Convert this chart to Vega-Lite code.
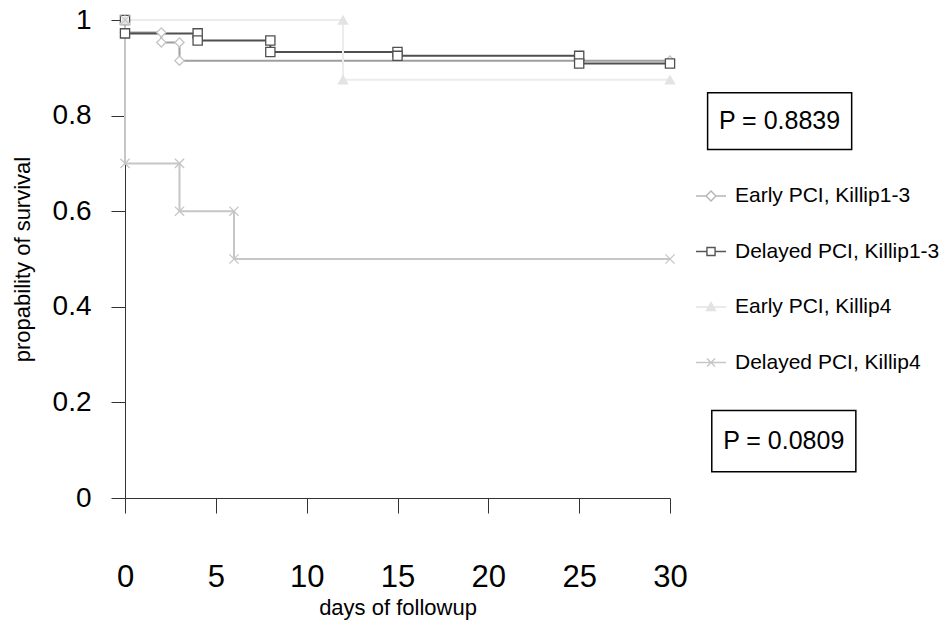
{
  "$schema": "https://vega.github.io/schema/vega-lite/v6.json",
  "width": 545,
  "height": 478,
  "autosize": {"type": "none"},
  "padding": {"left": 125, "top": 20, "right": 279, "bottom": 139},
  "background": "white",
  "config": {
    "font": "Liberation Sans",
    "view": {"stroke": null},
    "axis": {"grid": false, "domainColor": "#333333", "tickColor": "#333333", "labelColor": "black", "titleColor": "black", "titleFontWeight": "normal"},
    "legend": {
      "title": null, "orient": "none", "legendX": 570, "legendY": 160, "padding": 0,
      "symbolSize": 900, "rowPadding": 29.5, "labelOffset": 8, "labelFontSize": 21, "labelColor": "black",
      "labelLimit": 400, "symbolOpacity": 1, "symbolStrokeWidth": 1.4
    }
  },
  "datasets": {
    "curves": [
      {"series": "Early PCI, Killip1-3", "i": 1, "day": 0, "surv": 1},
      {"series": "Early PCI, Killip1-3", "i": 2, "day": 0, "surv": 0.974},
      {"series": "Early PCI, Killip1-3", "i": 3, "day": 2, "surv": 0.974},
      {"series": "Early PCI, Killip1-3", "i": 4, "day": 2, "surv": 0.953},
      {"series": "Early PCI, Killip1-3", "i": 5, "day": 3, "surv": 0.953},
      {"series": "Early PCI, Killip1-3", "i": 6, "day": 3, "surv": 0.915},
      {"series": "Early PCI, Killip1-3", "i": 7, "day": 30, "surv": 0.915},
      {"series": "Delayed PCI, Killip1-3", "i": 1, "day": 0, "surv": 1},
      {"series": "Delayed PCI, Killip1-3", "i": 2, "day": 0, "surv": 0.972},
      {"series": "Delayed PCI, Killip1-3", "i": 3, "day": 4, "surv": 0.972},
      {"series": "Delayed PCI, Killip1-3", "i": 4, "day": 4, "surv": 0.957},
      {"series": "Delayed PCI, Killip1-3", "i": 5, "day": 8, "surv": 0.957},
      {"series": "Delayed PCI, Killip1-3", "i": 6, "day": 8, "surv": 0.933},
      {"series": "Delayed PCI, Killip1-3", "i": 7, "day": 15, "surv": 0.933},
      {"series": "Delayed PCI, Killip1-3", "i": 8, "day": 15, "surv": 0.925},
      {"series": "Delayed PCI, Killip1-3", "i": 9, "day": 25, "surv": 0.925},
      {"series": "Delayed PCI, Killip1-3", "i": 10, "day": 25, "surv": 0.909},
      {"series": "Delayed PCI, Killip1-3", "i": 11, "day": 30, "surv": 0.909},
      {"series": "Early PCI, Killip4", "i": 1, "day": 0, "surv": 1},
      {"series": "Early PCI, Killip4", "i": 2, "day": 12, "surv": 1},
      {"series": "Early PCI, Killip4", "i": 3, "day": 12, "surv": 0.875},
      {"series": "Early PCI, Killip4", "i": 4, "day": 30, "surv": 0.875},
      {"series": "Delayed PCI, Killip4", "i": 1, "day": 0, "surv": 1},
      {"series": "Delayed PCI, Killip4", "i": 2, "day": 0, "surv": 0.7},
      {"series": "Delayed PCI, Killip4", "i": 3, "day": 3, "surv": 0.7},
      {"series": "Delayed PCI, Killip4", "i": 4, "day": 3, "surv": 0.6},
      {"series": "Delayed PCI, Killip4", "i": 5, "day": 6, "surv": 0.6},
      {"series": "Delayed PCI, Killip4", "i": 6, "day": 6, "surv": 0.5},
      {"series": "Delayed PCI, Killip4", "i": 7, "day": 30, "surv": 0.5}
    ]
  },
  "layer": [
    {
      "data": {"name": "curves"},
      "mark": {"type": "line", "strokeWidth": 2},
      "encoding": {
        "x": {"field": "day", "type": "quantitative", "scale": {"domain": [0, 30], "nice": false},
          "axis": {"values": [0, 5, 10, 15, 20, 25, 30], "tickSize": 15, "labelFontSize": 31, "labelPadding": 49, "labelFlush": false, "title": "days of followup", "titleFontSize": 22, "titlePadding": 5}},
        "y": {"field": "surv", "type": "quantitative", "scale": {"domain": [0, 1], "nice": false},
          "axis": {"values": [0, 0.2, 0.4, 0.6, 0.8, 1], "format": ".1~f", "tickSize": 14, "labelFontSize": 28, "labelPadding": 20, "labelFlush": false, "title": "propability of survival", "titleFontSize": 22, "titlePadding": 18}},
        "detail": {"field": "series", "type": "nominal"},
        "stroke": {"condition": [
            {"test": "datum.series === 'Early PCI, Killip1-3'", "value": "#9e9e9e"},
            {"test": "datum.series === 'Delayed PCI, Killip1-3'", "value": "#4f4f4f"},
            {"test": "datum.series === 'Early PCI, Killip4'", "value": "#ececec"}
          ], "value": "#c6c6c6"},
        "order": {"field": "i", "type": "quantitative"}
      }
    },
    {
      "data": {"name": "curves"},
      "mark": {"type": "point", "strokeWidth": 1.3, "opacity": 1, "size": 85},
      "encoding": {
        "x": {"field": "day", "type": "quantitative"},
        "y": {"field": "surv", "type": "quantitative"},
        "stroke": {"condition": [
            {"test": "datum.series === 'Early PCI, Killip1-3'", "value": "#c4c4c4"},
            {"test": "datum.series === 'Delayed PCI, Killip1-3'", "value": "#505050"},
            {"test": "datum.series === 'Early PCI, Killip4'", "value": "#e3e3e3"}
          ], "value": "#c6c6c6"},
        "fill": {"condition": {"test": "datum.series === 'Early PCI, Killip4'", "value": "#e3e3e3"}, "value": "white"},
        "shape": {"condition": [
            {"test": "datum.series === 'Early PCI, Killip1-3'", "value": "diamond"},
            {"test": "datum.series === 'Delayed PCI, Killip1-3'", "value": "square"},
            {"test": "datum.series === 'Early PCI, Killip4'", "value": "triangle-up"}
          ], "value": "M-1,-1L1,1M-1,1L1,-1"}
      }
    },
    {
      "data": {"name": "curves"},
      "transform": [{"filter": "false"}],
      "mark": {"type": "point", "strokeWidth": 1.4},
      "encoding": {
        "x": {"field": "day", "type": "quantitative"},
        "y": {"field": "surv", "type": "quantitative"},
        "shape": {"field": "series", "type": "nominal",
          "scale": {"domain": ["Early PCI, Killip1-3", "Delayed PCI, Killip1-3", "Early PCI, Killip4", "Delayed PCI, Killip4"],
            "range": ["M-1,0H-0.33M0.33,0H1M-0.33,0L0,-0.33L0.33,0L0,0.33Z", "M-1,0H-0.27M0.27,0H1M-0.27,-0.27H0.27V0.27H-0.27Z", "M-1,0H1M-0.3,0.24L0,-0.3L0.3,0.24Z", "M-1,0H1M-0.27,-0.27L0.27,0.27M-0.27,0.27L0.27,-0.27"]}},
        "stroke": {"field": "series", "type": "nominal",
          "scale": {"domain": ["Early PCI, Killip1-3", "Delayed PCI, Killip1-3", "Early PCI, Killip4", "Delayed PCI, Killip4"], "range": ["#b5b5b5", "#555555", "#e3e3e3", "#c6c6c6"]}},
        "fill": {"field": "series", "type": "nominal",
          "scale": {"domain": ["Early PCI, Killip1-3", "Delayed PCI, Killip1-3", "Early PCI, Killip4", "Delayed PCI, Killip4"], "range": ["white", "white", "#e3e3e3", "white"]}}
      }
    },
    {
      "data": {"values": [{"label": "P = 0.8839"}]},
      "mark": {"type": "rect", "fill": null, "stroke": "black", "strokeWidth": 1.5},
      "encoding": {"x": {"datum": 32.07}, "x2": {"datum": 40.0}, "y": {"datum": 0.848}, "y2": {"datum": 0.729}}
    },
    {
      "data": {"values": [{"label": "P = 0.8839"}]},
      "mark": {"type": "text", "fontSize": 25, "align": "center", "baseline": "middle", "color": "black"},
      "encoding": {"x": {"datum": 36.03}, "y": {"datum": 0.789}, "text": {"field": "label"}}
    },
    {
      "data": {"values": [{"label": "P = 0.0809"}]},
      "mark": {"type": "rect", "fill": null, "stroke": "black", "strokeWidth": 1.5},
      "encoding": {"x": {"datum": 32.3}, "x2": {"datum": 40.23}, "y": {"datum": 0.183}, "y2": {"datum": 0.055}}
    },
    {
      "data": {"values": [{"label": "P = 0.0809"}]},
      "mark": {"type": "text", "fontSize": 25, "align": "center", "baseline": "middle", "color": "black"},
      "encoding": {"x": {"datum": 36.26}, "y": {"datum": 0.12}, "text": {"field": "label"}}
    }
  ]
}
